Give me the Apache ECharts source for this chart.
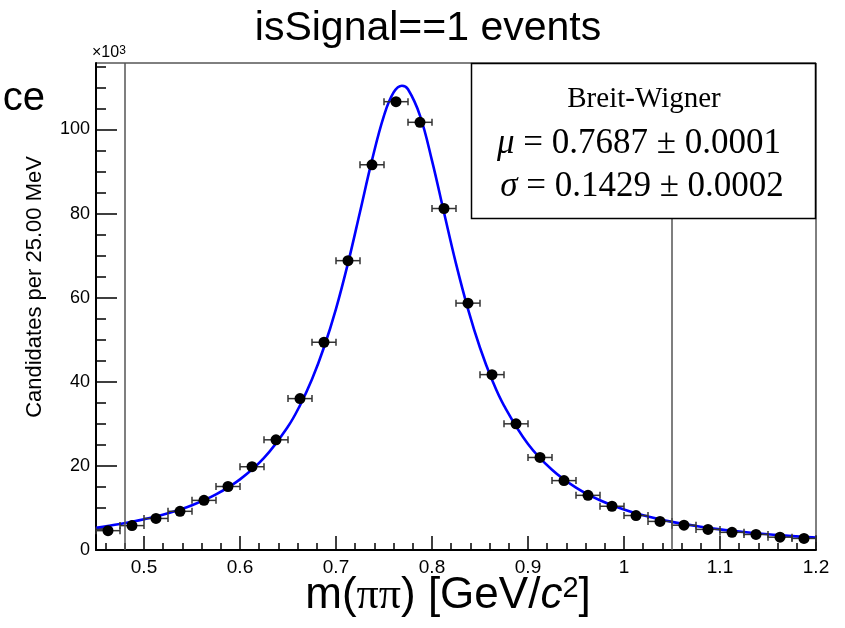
<!DOCTYPE html>
<html>
<head>
<meta charset="utf-8">
<script src="https://cdn.jsdelivr.net/npm/echarts@6/dist/echarts.min.js"></script>
<style>
  html, body { margin: 0; padding: 0; background: #fff; }
  #chart { width: 845px; height: 628px; }
</style>
</head>
<body>
<div id="chart"></div>
<script>
// Histogram of m(pipi) in 25 MeV bins
const binCenters = [
  0.4625, 0.4875, 0.5125, 0.5375, 0.5625, 0.5875, 0.6125, 0.6375, 0.6625, 0.6875,
  0.7125, 0.7375, 0.7625, 0.7875, 0.8125, 0.8375, 0.8625, 0.8875, 0.9125, 0.9375,
  0.9625, 0.9875, 1.0125, 1.0375, 1.0625, 1.0875, 1.1125, 1.1375, 1.1625, 1.1875
];
const candidates = [
  4600, 5800, 7500, 9200, 11800, 15100, 19800, 26200, 36000, 49400,
  68800, 91600, 106600, 101700, 81200, 58700, 41700, 30000, 22000, 16500,
  13000, 10400, 8200, 6800, 5900, 4900, 4200, 3700, 3050, 2750
];
const binHalfWidth = 0.0125;

// Breit-Wigner fit curve, sampled along the mass range
const fitX = [
  0.45, 0.475, 0.5, 0.525, 0.55, 0.575, 0.6, 0.625, 0.65, 0.6625, 0.675, 0.6875,
  0.7, 0.7125, 0.725, 0.7375, 0.75, 0.76, 0.7687, 0.775, 0.7875, 0.8, 0.8125,
  0.825, 0.8375, 0.85, 0.8625, 0.875, 0.9, 0.925, 0.95, 0.975, 1.0, 1.025, 1.05,
  1.075, 1.1, 1.125, 1.15, 1.175, 1.2
];
const fitY = [
  5280, 6170, 7290, 8740, 10650, 13220, 16790, 21880, 29360, 34400, 40580, 48200,
  57340, 68200, 80380, 92700, 103300, 108800, 110400, 109550, 103300, 92600, 80250,
  68100, 57300, 48100, 40500, 34350, 25220, 19080, 14840, 11820, 9620, 7960, 6690,
  5700, 4910, 4270, 3740, 3310, 2950
];

// Fit range boundaries
const rangeLines = [0.48, 1.05];

// Axis ticks
const xMajorTicks = [0.5, 0.6, 0.7, 0.8, 0.9, 1.0, 1.1, 1.2];
const xMinorTicks = [0.46, 0.48, 0.52, 0.54, 0.56, 0.58, 0.62, 0.64, 0.66, 0.68,
  0.72, 0.74, 0.76, 0.78, 0.82, 0.84, 0.86, 0.88, 0.92, 0.94, 0.96, 0.98,
  1.02, 1.04, 1.06, 1.08, 1.12, 1.14, 1.16, 1.18];
const yMajorTicks = [0, 20000, 40000, 60000, 80000, 100000];
const yMinorTicks = [5000, 10000, 15000, 25000, 30000, 35000, 45000, 50000, 55000,
  65000, 70000, 75000, 85000, 90000, 95000, 105000, 110000, 115000];

// Fit results box
const fitTitle = 'Breit-Wigner';
const fitMu = ['\u03bc', ' = 0.7687 \u00b1 0.0001'];
const fitSigma = ['\u03c3', ' = 0.1429 \u00b1 0.0002'];

const SANS = '"Liberation Sans", Arial, Helvetica, sans-serif';
const SERIF = '"Liberation Serif", "Times New Roman", serif';

const chart = echarts.init(document.getElementById('chart'), null, { renderer: 'canvas' });

const tickStyle = { color: '#000', width: 1.5 };

function errorBarItem(params, api) {
  const c = api.value(0);
  const v = api.value(1);
  const p0 = api.coord([c - binHalfWidth, v]);
  const p1 = api.coord([c + binHalfWidth, v]);
  const cap = 3.5;
  const st = { stroke: '#333', lineWidth: 1.5 };
  return {
    type: 'group',
    children: [
      { type: 'line', shape: { x1: p0[0], y1: p0[1], x2: p1[0], y2: p1[1] }, style: st },
      { type: 'line', shape: { x1: p0[0], y1: p0[1] - cap, x2: p0[0], y2: p0[1] + cap }, style: st },
      { type: 'line', shape: { x1: p1[0], y1: p1[1] - cap, x2: p1[0], y2: p1[1] + cap }, style: st }
    ]
  };
}

const histData = binCenters.map((c, i) => [c, candidates[i]]);
const fitData = fitX.map((x, i) => [x, fitY[i]]);

const option = {
  animation: false,
  backgroundColor: '#fff',
  grid: {
    left: 96, top: 63, width: 720, height: 487,
    show: true, borderColor: '#000', borderWidth: 1, backgroundColor: 'transparent',
    containLabel: false, outerBoundsMode: 'none'
  },
  xAxis: [
    {
      type: 'value', min: 0.45, max: 1.2, position: 'bottom',
      axisLine: { show: true, onZero: false, lineStyle: { color: '#000', width: 2 } },
      axisTick: { show: true, inside: true, length: 14, customValues: xMajorTicks, lineStyle: tickStyle },
      axisLabel: {
        show: true, customValues: xMajorTicks, color: '#000', fontSize: 19,
        fontFamily: SANS, margin: 8,
        formatter: v => String(Math.round(v * 10) / 10)
      },
      splitLine: { show: false }
    },
    {
      type: 'value', min: 0.45, max: 1.2, position: 'bottom',
      axisLine: { show: false },
      axisTick: { show: true, inside: true, length: 7, customValues: xMinorTicks, lineStyle: tickStyle },
      axisLabel: { show: false },
      splitLine: { show: false }
    }
  ],
  yAxis: [
    {
      type: 'value', min: 0, max: 115800, position: 'left',
      axisLine: { show: true, onZero: false, lineStyle: { color: '#000', width: 2 } },
      axisTick: { show: true, inside: true, length: 21, customValues: yMajorTicks, lineStyle: tickStyle },
      axisLabel: {
        show: true, customValues: yMajorTicks, color: '#000', fontSize: 18,
        fontFamily: SANS, margin: 6,
        formatter: v => String(Math.round(v / 1000))
      },
      splitLine: { show: false }
    },
    {
      type: 'value', min: 0, max: 115800, position: 'left',
      axisLine: { show: false },
      axisTick: { show: true, inside: true, length: 10, customValues: yMinorTicks, lineStyle: tickStyle },
      axisLabel: { show: false },
      splitLine: { show: false }
    }
  ],
  series: [
    {
      name: 'fit',
      type: 'line',
      xAxisIndex: 0, yAxisIndex: 0,
      data: fitData,
      smooth: 0.4,
      showSymbol: false,
      clip: true,
      lineStyle: { color: '#0000ff', width: 2.6 },
      z: 3,
      markLine: {
        silent: true,
        symbol: 'none',
        label: { show: false },
        lineStyle: { color: '#555', width: 1.5, type: 'solid' },
        data: rangeLines.map(v => ({ xAxis: v }))
      }
    },
    {
      name: 'errors',
      type: 'custom',
      xAxisIndex: 0, yAxisIndex: 0,
      data: histData,
      renderItem: errorBarItem,
      z: 4
    },
    {
      name: 'data',
      type: 'scatter',
      xAxisIndex: 0, yAxisIndex: 0,
      data: histData,
      symbol: 'circle',
      symbolSize: 11,
      itemStyle: { color: '#000', opacity: 1 },
      z: 5
    }
  ],
  graphic: [
    {
      type: 'text', z: 100,
      style: { text: 'isSignal==1 events', x: 428, y: 29, align: 'center', verticalAlign: 'middle',
        font: '41px ' + SANS, fill: '#000' }
    },
    {
      type: 'text', z: 100,
      style: { text: 'ce', x: 45, y: 99, align: 'right', verticalAlign: 'middle',
        font: '40px ' + SANS, fill: '#000' }
    },
    {
      type: 'text', z: 100, x: 35, y: 287, rotation: Math.PI / 2,
      style: { text: 'Candidates per 25.00 MeV', x: 0, y: 0, align: 'center', verticalAlign: 'middle',
        font: '22px ' + SANS, fill: '#000' }
    },
    {
      type: 'text', z: 100,
      style: {
        text: '{t|\u00d710}{s|3}', x: 92, y: 53, align: 'left', verticalAlign: 'middle',
        rich: {
          t: { fontSize: 16, fontFamily: SANS, fill: '#000', verticalAlign: 'bottom' },
          s: { fontSize: 12, fontFamily: SANS, fill: '#000', verticalAlign: 'top' }
        }
      }
    },
    {
      type: 'text', z: 100,
      style: {
        text: '{a|m(}{p|\u03c0\u03c0}{a|) [GeV/}{c|c}{s|2}{a|]}', x: 448, y: 596, align: 'center', verticalAlign: 'middle',
        rich: {
          a: { fontSize: 44, fontFamily: SANS, fill: '#000', verticalAlign: 'bottom' },
          p: { fontSize: 44, fontFamily: SERIF, fill: '#000', verticalAlign: 'bottom' },
          c: { fontSize: 44, fontFamily: SANS, fontStyle: 'italic', fill: '#000', verticalAlign: 'bottom' },
          s: { fontSize: 29, fontFamily: SANS, fill: '#000', verticalAlign: 'top' }
        }
      }
    },
    {
      type: 'rect', z: 100,
      shape: { x: 471.5, y: 63.5, width: 344, height: 155 },
      style: { fill: '#fff', stroke: '#000', lineWidth: 1.5 }
    },
    {
      type: 'text', z: 101,
      style: { text: fitTitle, x: 644, y: 99, align: 'center', verticalAlign: 'middle',
        font: '29px ' + SERIF, fill: '#000' }
    },
    {
      type: 'text', z: 101,
      style: {
        text: '{i|' + fitMu[0] + '}{n|' + fitMu[1] + '}', x: 639, y: 144, align: 'center', verticalAlign: 'middle',
        rich: {
          i: { fontSize: 35, fontFamily: SERIF, fontStyle: 'italic', fill: '#000' },
          n: { fontSize: 35, fontFamily: SERIF, fill: '#000' }
        }
      }
    },
    {
      type: 'text', z: 101,
      style: {
        text: '{i|' + fitSigma[0] + '}{n|' + fitSigma[1] + '}', x: 642, y: 187, align: 'center', verticalAlign: 'middle',
        rich: {
          i: { fontSize: 35, fontFamily: SERIF, fontStyle: 'italic', fill: '#000' },
          n: { fontSize: 35, fontFamily: SERIF, fill: '#000' }
        }
      }
    }
  ]
};

chart.setOption(option);
</script>
</body>
</html>
